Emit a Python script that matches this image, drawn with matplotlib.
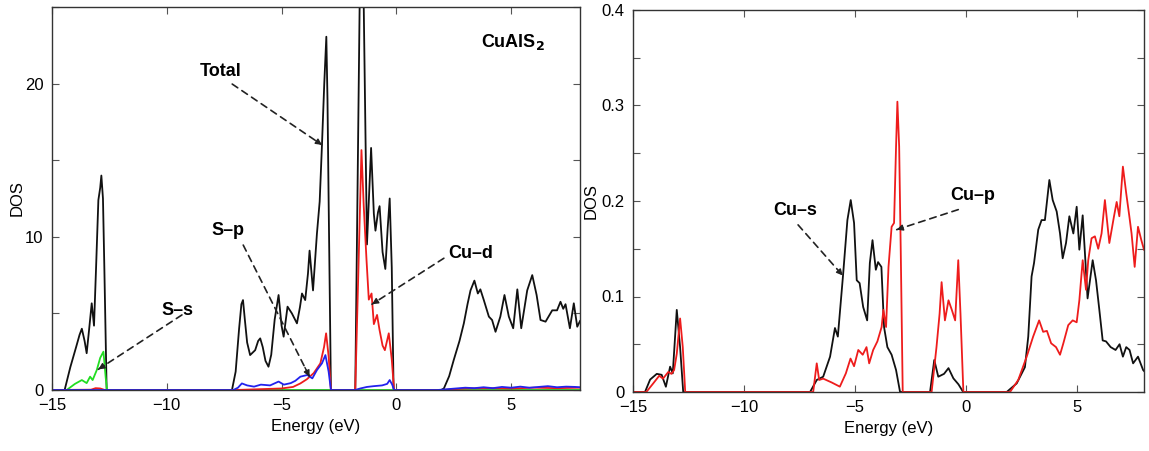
import matplotlib
matplotlib.use("Agg")
import matplotlib.pyplot as plt
from matplotlib.ticker import MultipleLocator, FuncFormatter

plt.rcParams['font.family'] = ['Liberation Sans', 'DejaVu Sans']

# ---------------- Left panel data (CuAlS2 total / partial DOS) ----------------
total_E = [-15, -14.45, -14.2, -13.95, -13.8, -13.7, -13.58, -13.49, -13.38, -13.27, -13.17, -13.08,
           -12.98, -12.9, -12.85, -12.78, -12.72, -12.62,
           -7.16, -7.0, -6.85, -6.75, -6.68, -6.6, -6.5, -6.37, -6.15, -6.02, -5.93, -5.82, -5.7, -5.57,
           -5.45, -5.3, -5.13, -5.0, -4.91, -4.74, -4.55, -4.33, -4.2, -4.11, -3.97, -3.85, -3.78, -3.63,
           -3.46, -3.34, -3.24, -3.14, -3.05, -3.0, -2.95, -2.85,
           -1.79, -1.6, -1.51, -1.42, -1.28, -1.18, -1.1, -0.98, -0.91, -0.8, -0.73, -0.6, -0.48,
           -0.38, -0.29, -0.2, -0.12,
           1.95, 2.07, 2.3, 2.5, 2.75, 2.94, 3.1, 3.23, 3.40, 3.55, 3.66, 3.81, 4.03, 4.17, 4.32, 4.53,
           4.71, 4.9, 5.09, 5.27, 5.44, 5.7, 5.92, 6.11, 6.28, 6.5, 6.79, 7.0, 7.15, 7.27, 7.37,
           7.56, 7.73, 7.88, 8.0]
total_D = [0, 0, 1.5, 2.8, 3.6, 4.0, 3.2, 2.4, 4.0, 5.66, 4.2, 8.0,
           12.4, 13.2, 14.0, 12.5, 8.0, 0,
           0, 1.2, 4.0, 5.6, 5.87, 4.6, 3.1, 2.28, 2.6, 3.2, 3.37, 2.8, 1.9, 1.52,
           2.3, 4.6, 6.2, 4.2, 3.48, 5.44, 5.0, 4.35, 5.4, 6.3, 5.87, 7.6, 9.1, 6.5,
           10.2, 12.3, 16.0, 20.0, 23.06, 19.0, 12.4, 0,
           0, 25, 40, 25, 9.5, 13.0, 15.8, 11.5, 10.4, 11.6, 12.0, 9.0, 7.9,
           10.5, 12.5, 8.0, 0,
           0, 0.1, 0.9, 1.96, 3.2, 4.35, 5.6, 6.5, 7.14, 6.3, 6.57, 5.87, 4.79, 4.57, 3.8, 4.79,
           6.2, 4.79, 4.03, 6.57, 4.03, 6.5, 7.5, 6.2, 4.57, 4.46, 5.2, 5.2, 5.76, 5.3, 5.6,
           4.03, 5.66, 4.13, 4.5]

cud_E = [-15, -13.3, -13.1, -12.9, -12.7, -7.0, -6.0, -5.0, -4.5, -4.18, -3.9, -3.6, -3.31,
         -3.15, -3.06, -2.95, -2.85,
         -1.79, -1.65, -1.52, -1.42, -1.3, -1.2, -1.08, -0.98, -0.84, -0.73, -0.6, -0.5,
         -0.33, -0.2, -0.1,
         2.0, 3.0, 4.0, 5.0, 6.0, 7.0, 8.0]
cud_D = [0, 0.02, 0.12, 0.1, 0, 0, 0.05, 0.1, 0.2, 0.43, 0.7, 1.1, 1.74,
         2.8, 3.7, 2.2, 0,
         0, 8.0, 15.66, 12.0, 8.5, 5.9, 6.3, 4.3, 4.9, 3.9, 2.9, 2.6,
         3.7, 2.0, 0,
         0, 0.1, 0.12, 0.1, 0.15, 0.12, 0.15]

sp_E = [-15, -7.1, -6.9, -6.73, -6.5, -6.2, -5.9, -5.5, -5.13, -4.9, -4.6, -4.4, -4.18,
        -3.88, -3.66, -3.46, -3.24, -3.09, -2.95, -2.85,
        -1.79, -1.57, -1.28, -0.99, -0.62, -0.4, -0.29, -0.18, -0.1,
        1.8, 2.2, 2.6, 3.0, 3.4, 3.8, 4.2, 4.6, 5.0, 5.4, 5.8, 6.2, 6.6, 7.0, 7.4, 7.8, 8.0]
sp_D = [0, 0, 0.15, 0.43, 0.3, 0.22, 0.35, 0.3, 0.55, 0.35, 0.45, 0.6, 0.87,
        0.98, 0.76, 1.3, 1.74, 2.28, 1.2, 0,
        0, 0.1, 0.2, 0.25, 0.3, 0.4, 0.65, 0.35, 0,
        0, 0.05, 0.1, 0.15, 0.12, 0.18, 0.12, 0.2, 0.15, 0.22, 0.15, 0.2, 0.25, 0.18, 0.22,
        0.2, 0.18]

ss_E = [-15, -14.36, -14.0, -13.7, -13.49, -13.34, -13.23, -13.05, -12.9, -12.76, -12.66,
        -12.6, 8]
ss_D = [0, 0, 0.4, 0.65, 0.45, 0.87, 0.65, 1.3, 2.1, 2.5, 0.8, 0, 0]

# ---------------- Right panel data (Cu-s, Cu-p) ----------------
cus_E = [-15, -14.46, -14.23, -13.93, -13.71, -13.52, -13.33, -13.21, -13.03, -12.88, -12.74,
         -7.03, -6.73, -6.44, -6.13, -5.91, -5.78, -5.54, -5.35, -5.2, -5.05, -4.93, -4.8,
         -4.64, -4.46, -4.34, -4.22, -4.07, -3.97, -3.82, -3.7, -3.55, -3.36, -3.16, -2.98,
         -1.63, -1.44, -1.26, -1.0, -0.8, -0.58, -0.35, -0.14,
         1.82, 2.27, 2.64, 2.79, 2.94, 3.05, 3.24, 3.39, 3.54, 3.74, 3.89, 4.07, 4.22, 4.34,
         4.49, 4.64, 4.82, 4.97, 5.09, 5.24, 5.36, 5.46, 5.69, 5.84, 5.99, 6.14, 6.29, 6.5,
         6.72, 6.9, 7.05, 7.2, 7.35, 7.51, 7.73, 7.96, 8.0]
cus_D = [0, 0, 0.013, 0.019, 0.018, 0.0055, 0.0265, 0.0195, 0.086, 0.047, 0,
         0, 0.0126, 0.016, 0.037, 0.067, 0.058, 0.124, 0.18, 0.201, 0.177, 0.117, 0.114,
         0.089, 0.075, 0.135, 0.159, 0.128, 0.136, 0.131, 0.068, 0.047, 0.039, 0.023, 0,
         0, 0.0335, 0.016, 0.019, 0.025, 0.0143, 0.008, 0,
         0, 0.009, 0.026, 0.058, 0.121, 0.135, 0.17, 0.18, 0.18, 0.222, 0.201, 0.189, 0.166,
         0.14, 0.156, 0.184, 0.166, 0.194, 0.149, 0.185, 0.138, 0.098, 0.138, 0.117, 0.086,
         0.054, 0.053, 0.047, 0.044, 0.05, 0.037, 0.047, 0.044, 0.03, 0.037, 0.023, 0.022]

cup_E = [-15, -14.4, -14.09, -13.82, -13.65, -13.41, -13.27, -13.15, -13.03, -12.88, -12.76,
         -12.65,
         -6.89, -6.73, -6.62, -6.44, -6.06, -5.69, -5.42, -5.21, -5.05, -4.86, -4.66, -4.49,
         -4.37, -4.19, -4.0, -3.81, -3.73, -3.61, -3.5, -3.36, -3.25, -3.16, -3.1, -3.02,
         -2.95, -2.86,
         -1.56, -1.34, -1.2, -1.11, -0.96, -0.8, -0.65, -0.5, -0.36, -0.26, -0.13,
         1.97, 2.34, 2.72, 3.01, 3.28, 3.46, 3.63, 3.82, 4.04, 4.22, 4.37, 4.59, 4.79, 4.97,
         5.09, 5.24, 5.39, 5.49, 5.64, 5.79, 5.94, 6.09, 6.24, 6.44, 6.65, 6.77, 6.89, 7.05,
         7.2, 7.34, 7.44, 7.58, 7.73, 7.88, 8.0]
cup_D = [0, 0, 0.009, 0.017, 0.014, 0.021, 0.019, 0.023, 0.04, 0.077, 0.047,
         0,
         0, 0.03, 0.0126, 0.014, 0.01, 0.0056, 0.0195, 0.035, 0.027, 0.044, 0.039, 0.047,
         0.03, 0.044, 0.053, 0.068, 0.086, 0.068, 0.131, 0.173, 0.177, 0.257, 0.304, 0.257,
         0.15, 0,
         0, 0.047, 0.082, 0.115, 0.075, 0.096, 0.086, 0.075, 0.138, 0.082, 0,
         0, 0.0126, 0.037, 0.058, 0.075, 0.063, 0.064, 0.051, 0.047, 0.039, 0.051, 0.07,
         0.075, 0.073, 0.096, 0.138, 0.107, 0.138, 0.161, 0.163, 0.15, 0.166, 0.201, 0.156,
         0.184, 0.199, 0.184, 0.236, 0.208, 0.184, 0.166, 0.131, 0.173, 0.159, 0.149]

xticks = [-15, -10, -5, 0, 5]

BLACK = '#111111'
RED = '#ee1c1c'
BLUE = '#2222ee'
GREEN = '#22dd22'

fig = plt.figure(figsize=(11.49, 4.51), dpi=100)
axL = fig.add_axes([52/1149, 1-390/451, (580-52)/1149, (390-7)/451])
axR = fig.add_axes([633/1149, 1-392/451, (1144-633)/1149, (392-10)/451])

lw = 1.3
kw = dict(lw=lw, solid_joinstyle='round')
axL.plot(total_E, total_D, color=BLACK, **kw)
axL.plot(ss_E, ss_D, color=GREEN, **kw)
axL.plot(cud_E, cud_D, color=RED, **kw)
axL.plot(sp_E, sp_D, color=BLUE, **kw)

axR.plot(cus_E, cus_D, color=BLACK, **kw)
axR.plot(cup_E, cup_D, color=RED, **kw)

axL.set_xlim(-15, 8)
axL.set_ylim(0, 25)
axR.set_xlim(-15, 8)
axR.set_ylim(0, 0.4)

fs = 12
afs = 13
for ax in (axL, axR):
    ax.set_xticks(xticks)
    ax.tick_params(direction='in', top=True, right=True, length=5, width=0.8,
                   labelsize=fs, color='#555555', pad=6)
    for s in ax.spines.values():
        s.set_color('#333333')
        s.set_linewidth(1.0)
    ax.set_xlabel('Energy (eV)', fontsize=fs, labelpad=4)

axL.yaxis.set_major_locator(MultipleLocator(5))
axL.yaxis.set_major_formatter(FuncFormatter(lambda v, p: f"{int(round(v))}" if round(v) % 10 == 0 and v < 24 else ""))
axR.yaxis.set_major_locator(MultipleLocator(0.05))
axR.yaxis.set_major_formatter(FuncFormatter(lambda v, p: (f"{v:.1f}" if v > 0.001 else "0") if abs(round(v * 10) - v * 10) < 1e-6 else ""))

axL.set_ylabel('DOS', fontsize=fs)
axL.yaxis.set_label_coords(-0.051, 0.5)
axR.set_ylabel('DOS', fontsize=fs)
axR.yaxis.set_label_coords(-0.068, 0.5)


def dashed_arrow(ax, text, txy, start, end):
    ax.text(txy[0], txy[1], text, fontsize=afs, fontweight='bold', ha='center', va='center')
    ax.annotate('', xy=end, xytext=start,
                arrowprops=dict(arrowstyle='-', linestyle=(0, (4, 3)), color='#222222',
                                lw=1.2, shrinkA=0, shrinkB=0))
    fx = start[0] + 0.93 * (end[0] - start[0])
    fy = start[1] + 0.93 * (end[1] - start[1])
    ax.annotate('', xy=end, xytext=(fx, fy),
                arrowprops=dict(arrowstyle='-|>', color='#222222', lw=1.0,
                                mutation_scale=9, shrinkA=0, shrinkB=0))


dashed_arrow(axL, 'Total', (-7.67, 20.76), (-7.15, 19.97), (-3.24, 16.0))
dashed_arrow(axL, 'S–p', (-7.32, 10.44), (-6.67, 9.46), (-3.78, 0.87))
dashed_arrow(axL, 'S–s', (-9.55, 5.22), (-9.34, 4.9), (-12.98, 1.35))
dashed_arrow(axL, 'Cu–d', (3.23, 8.94), (2.07, 8.6), (-1.06, 5.6))
axL.text(5.1, 22.7, 'CuAlS$_\\mathbf{2}$', fontsize=afs, fontweight='bold', ha='center', va='center')

dashed_arrow(axR, 'Cu–s', (-7.71, 0.19), (-7.57, 0.175), (-5.56, 0.122))
dashed_arrow(axR, 'Cu–p', (0.3, 0.206), (-0.36, 0.191), (-3.13, 0.17))

fig.savefig('out.png', dpi=100)
